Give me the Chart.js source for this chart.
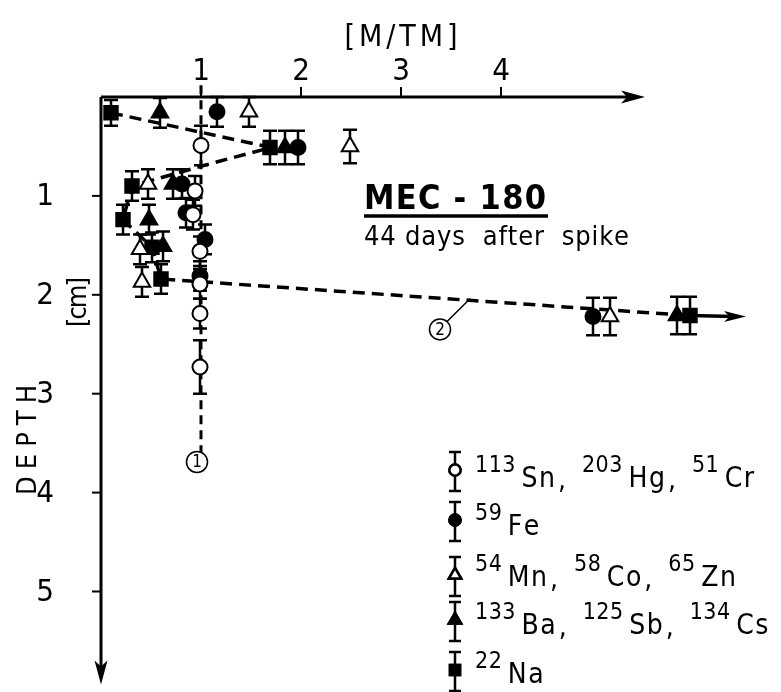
<!DOCTYPE html>
<html>
<head>
<meta charset="utf-8">
<script src="https://cdn.jsdelivr.net/npm/chart.js@4.4.0/dist/chart.umd.min.js"></script>
<style>
  html, body { margin: 0; padding: 0; background: #fff; }
  canvas { display: block; }
</style>
</head>
<body>
<canvas id="chart" width="781" height="692"></canvas>
<script>
const xTicks = [1, 2, 3, 4];
const yTicks = [1, 2, 3, 4, 5];

// [ratio M/TM, depth cm, half error bar cm]
const snHgCr = [
  [1.00, 0.49, 0.20], [0.94, 0.95, 0.15], [0.92, 1.19, 0.15], [0.99, 1.56, 0.15],
  [0.99, 1.89, 0.15], [0.99, 2.19, 0.15], [0.99, 2.73, 0.27]
];
const fe = [
  [1.16, 0.15, 0.15], [1.97, 0.51, 0.17], [0.81, 0.88, 0.15], [0.85, 1.17, 0.15],
  [1.04, 1.44, 0.15], [0.99, 1.81, 0.15], [4.92, 2.22, 0.19]
];
const mnCoZn = [
  [1.48, 0.15, 0.15], [2.49, 0.50, 0.17], [0.47, 0.88, 0.15], [0.39, 1.54, 0.15],
  [0.41, 1.87, 0.15], [5.09, 2.22, 0.19]
];
const baSbCs = [
  [0.59, 0.16, 0.15], [1.84, 0.51, 0.17], [0.72, 0.88, 0.15], [0.48, 1.24, 0.15],
  [0.62, 1.51, 0.15], [5.76, 2.21, 0.19]
];
const na = [
  [0.10, 0.16, 0.13], [1.69, 0.51, 0.17], [0.31, 0.90, 0.15], [0.22, 1.24, 0.15],
  [0.51, 1.52, 0.15], [0.60, 1.84, 0.15], [5.89, 2.21, 0.19]
];

// dashed trend lines
const line1 = [[1.0, -0.12], [1.0, 3.62]];
const line2 = [[0.10, 0.16], [1.70, 0.51], [1.00, 0.70], [0.31, 0.90], [0.22, 1.24],
               [0.51, 1.52], [0.60, 1.84], [5.89, 2.21]];
const line2Arrow = [[5.89, 2.21], [6.45, 2.22]];
const line1Label = [0.96, 3.69];
const line2Label = [3.39, 2.35];
const line2Pointer = [3.69, 2.04];

const xAxisEnd = 5.44;
const yAxisEnd = 5.94;

const legendEntries = [
  [['113', 'Sn'], ['203', 'Hg'], ['51', 'Cr']],
  [['59', 'Fe']],
  [['54', 'Mn'], ['58', 'Co'], ['65', 'Zn']],
  [['133', 'Ba'], ['125', 'Sb'], ['134', 'Cs']],
  [['22', 'Na']]
];

const FONT = '"Liberation Sans Narrow", "DejaVu Sans Condensed", "Liberation Sans", sans-serif';

const toPts = rows => rows.map(r => ({ x: r[0], y: r[1], e: r[2] }));
const toXY = rows => rows.map(r => ({ x: r[0], y: r[1] }));

const markers = [
  { data: snHgCr, style: 'circle', fill: '#fff', r: 7.5 },
  { data: fe, style: 'circle', fill: '#000', r: 7.5 },
  { data: mnCoZn, style: 'triangle', fill: '#fff', r: 9.5 },
  { data: baSbCs, style: 'triangle', fill: '#000', r: 9.5 },
  { data: na, style: 'rect', fill: '#000', r: 9.5 }
];

const datasets = markers.map(m => ({
  type: 'scatter',
  data: toPts(m.data),
  pointStyle: m.style,
  pointRadius: m.r,
  pointHoverRadius: m.r,
  backgroundColor: m.fill,
  borderColor: '#000',
  borderWidth: 2,
  clip: false,
  order: 1
}));
datasets.push({
  type: 'line', data: toXY(line1), borderColor: '#000', borderWidth: 3,
  borderDash: [9, 6], pointRadius: 0, clip: false, order: 5
});
datasets.push({
  type: 'line', data: toXY(line2), borderColor: '#000', borderWidth: 3.5,
  borderDash: [12, 7], pointRadius: 0, clip: false, order: 5, tension: 0
});

// letter-spaced text drawn char by char to fill a given width
function spaced(ctx, text, x, y, width, align) {
  const chars = [...text];
  const ws = chars.map(c => ctx.measureText(c).width);
  const natural = ws.reduce((a, b) => a + b, 0);
  const gap = chars.length > 1 ? (width - natural) / (chars.length - 1) : 0;
  let cx = align === 'center' ? x - width / 2 : x;
  ctx.textAlign = 'left';
  chars.forEach((c, i) => { ctx.fillText(c, cx, y); cx += ws[i] + gap; });
  return cx;
}

function plainSpaced(ctx, text, x, y, gap) {
  ctx.textAlign = 'left';
  let cx = x;
  for (const c of text) { ctx.fillText(c, cx, y); cx += ctx.measureText(c).width + gap; }
  return cx - gap;
}

function errorBar(ctx, x, y1, y2, cap) {
  ctx.beginPath();
  ctx.moveTo(x, y1); ctx.lineTo(x, y2);
  ctx.moveTo(x - cap, y1); ctx.lineTo(x + cap, y1);
  ctx.moveTo(x - cap, y2); ctx.lineTo(x + cap, y2);
  ctx.stroke();
}

function arrowHead(ctx, x, y, dx, dy, len, half) {
  const px = -dy, py = dx;
  ctx.beginPath();
  ctx.moveTo(x, y);
  ctx.lineTo(x - dx * len + px * half, y - dy * len + py * half);
  ctx.lineTo(x - dx * len * 0.75, y - dy * len * 0.75);
  ctx.lineTo(x - dx * len - px * half, y - dy * len - py * half);
  ctx.closePath();
  ctx.fill();
}

function circled(ctx, text, x, y) {
  ctx.beginPath();
  ctx.arc(x, y, 10.5, 0, Math.PI * 2);
  ctx.fillStyle = '#fff';
  ctx.fill();
  ctx.lineWidth = 1.5;
  ctx.stroke();
  ctx.fillStyle = '#000';
  ctx.font = '17px ' + FONT;
  ctx.textAlign = 'center';
  ctx.textBaseline = 'middle';
  ctx.fillText(text, x, y + 1);
  ctx.textBaseline = 'alphabetic';
}

const decor = {
  id: 'decor',
  beforeDatasetsDraw(chart) {
    const { ctx, scales: { x, y } } = chart;
    ctx.save();
    ctx.strokeStyle = '#000';
    ctx.lineWidth = 2.5;
    markers.forEach(m => m.data.forEach(p => {
      errorBar(ctx, x.getPixelForValue(p[0]), y.getPixelForValue(p[1] - p[2]),
               y.getPixelForValue(p[1] + p[2]), 7);
    }));
    ctx.restore();
  },
  afterDatasetsDraw(chart) {
    const { ctx, scales: { x, y } } = chart;
    const x0 = x.getPixelForValue(0), y0 = y.getPixelForValue(0);
    ctx.save();
    ctx.strokeStyle = '#000';
    ctx.fillStyle = '#000';

    // axes with arrows
    const xEnd = x.getPixelForValue(xAxisEnd), yEnd = y.getPixelForValue(yAxisEnd);
    ctx.lineWidth = 3;
    ctx.beginPath();
    ctx.moveTo(x0, y0); ctx.lineTo(xEnd - 10, y0);
    ctx.moveTo(x0, y0); ctx.lineTo(x0, yEnd - 10);
    ctx.stroke();
    arrowHead(ctx, xEnd, y0, 1, 0, 24, 6.5);
    arrowHead(ctx, x0, yEnd, 0, 1, 24, 6.5);

    // ticks and tick labels
    ctx.lineWidth = 2;
    ctx.font = '31px ' + FONT;
    ctx.textAlign = 'center';
    xTicks.forEach(t => {
      const px = x.getPixelForValue(t);
      ctx.beginPath(); ctx.moveTo(px, y0); ctx.lineTo(px, y0 - 10); ctx.stroke();
      ctx.fillText(String(t), px, y0 - 17);
    });
    ctx.textBaseline = 'middle';
    yTicks.forEach(t => {
      const py = y.getPixelForValue(t);
      ctx.beginPath(); ctx.moveTo(x0, py); ctx.lineTo(x0 - 9, py); ctx.stroke();
      ctx.fillText(String(t), x0 - 56, py + 1);
    });
    ctx.textBaseline = 'alphabetic';

    // axis titles
    ctx.font = '30px ' + FONT;
    spaced(ctx, '[M/TM]', 401, 46, 113, 'center');
    ctx.save();
    ctx.rotate(-Math.PI / 2);
    ctx.font = '27px ' + FONT;
    spaced(ctx, 'DEPTH', -440, 36, 110, 'center');
    spaced(ctx, '[cm]', -302, 86, 50, 'center');
    ctx.restore();

    // arrow continuing line 2
    const a0x = x.getPixelForValue(line2Arrow[0][0]), a0y = y.getPixelForValue(line2Arrow[0][1]);
    const a1x = x.getPixelForValue(line2Arrow[1][0]), a1y = y.getPixelForValue(line2Arrow[1][1]);
    ctx.lineWidth = 3.5;
    ctx.beginPath(); ctx.moveTo(a0x, a0y); ctx.lineTo(a1x - 12, a1y); ctx.stroke();
    arrowHead(ctx, a1x, a1y, 1, 0, 22, 5.5);

    // circled line labels
    const l2x = x.getPixelForValue(line2Label[0]), l2y = y.getPixelForValue(line2Label[1]);
    const p2x = x.getPixelForValue(line2Pointer[0]), p2y = y.getPixelForValue(line2Pointer[1]);
    ctx.lineWidth = 1.5;
    ctx.beginPath(); ctx.moveTo(l2x + 7, l2y - 8); ctx.lineTo(p2x, p2y); ctx.stroke();
    circled(ctx, '1', x.getPixelForValue(line1Label[0]), y.getPixelForValue(line1Label[1]));
    circled(ctx, '2', l2x, l2y);

    // title
    ctx.font = 'bold 34px ' + FONT;
    spaced(ctx, 'MEC - 180', 364, 209, 182, 'left');
    ctx.lineWidth = 3.5;
    ctx.beginPath(); ctx.moveTo(364, 216); ctx.lineTo(548, 216); ctx.stroke();
    ctx.font = '27px ' + FONT;
    spaced(ctx, '44 days  after  spike', 364, 245, 265, 'left');

    // legend
    const rowY = [487, 535, 586, 634, 683];
    const symY = [470, 520, 575, 620, 670];
    const legendX = 455;
    ctx.lineWidth = 2.5;
    markers.forEach((m, i) => {
      errorBar(ctx, legendX, symY[i] - 18, symY[i] + 21, 6);
      Chart.helpers.drawPoint(ctx, {
        pointStyle: m.style, radius: m.r * 0.75, rotation: 0, borderWidth: 2
      }, legendX, symY[i]);
      ctx.fillStyle = m.fill;
      ctx.fill();
      ctx.stroke();
      ctx.fillStyle = '#000';

      let cx = 475;
      legendEntries[i].forEach((pair, k) => {
        ctx.font = '23px ' + FONT;
        cx = plainSpaced(ctx, pair[0], cx, rowY[i] - 15, 0.5) + 6;
        ctx.font = '28px ' + FONT;
        cx = plainSpaced(ctx, pair[1], cx, rowY[i], 1.5);
        if (k < legendEntries[i].length - 1) {
          cx = plainSpaced(ctx, ',', cx + 3, rowY[i] + 2, 0) + 16;
        }
      });
    });
    ctx.restore();
  }
};

new Chart(document.getElementById('chart'), {
  data: { datasets },
  options: {
    responsive: false,
    animation: false,
    layout: { padding: { left: 101, top: 97, right: 20, bottom: 8 } },
    plugins: { legend: { display: false }, tooltip: { enabled: false } },
    scales: {
      x: { type: 'linear', min: 0, max: 6.6, display: false },
      y: { type: 'linear', min: 0, max: 5.9, reverse: true, display: false }
    }
  },
  plugins: [decor]
});
</script>
</body>
</html>
